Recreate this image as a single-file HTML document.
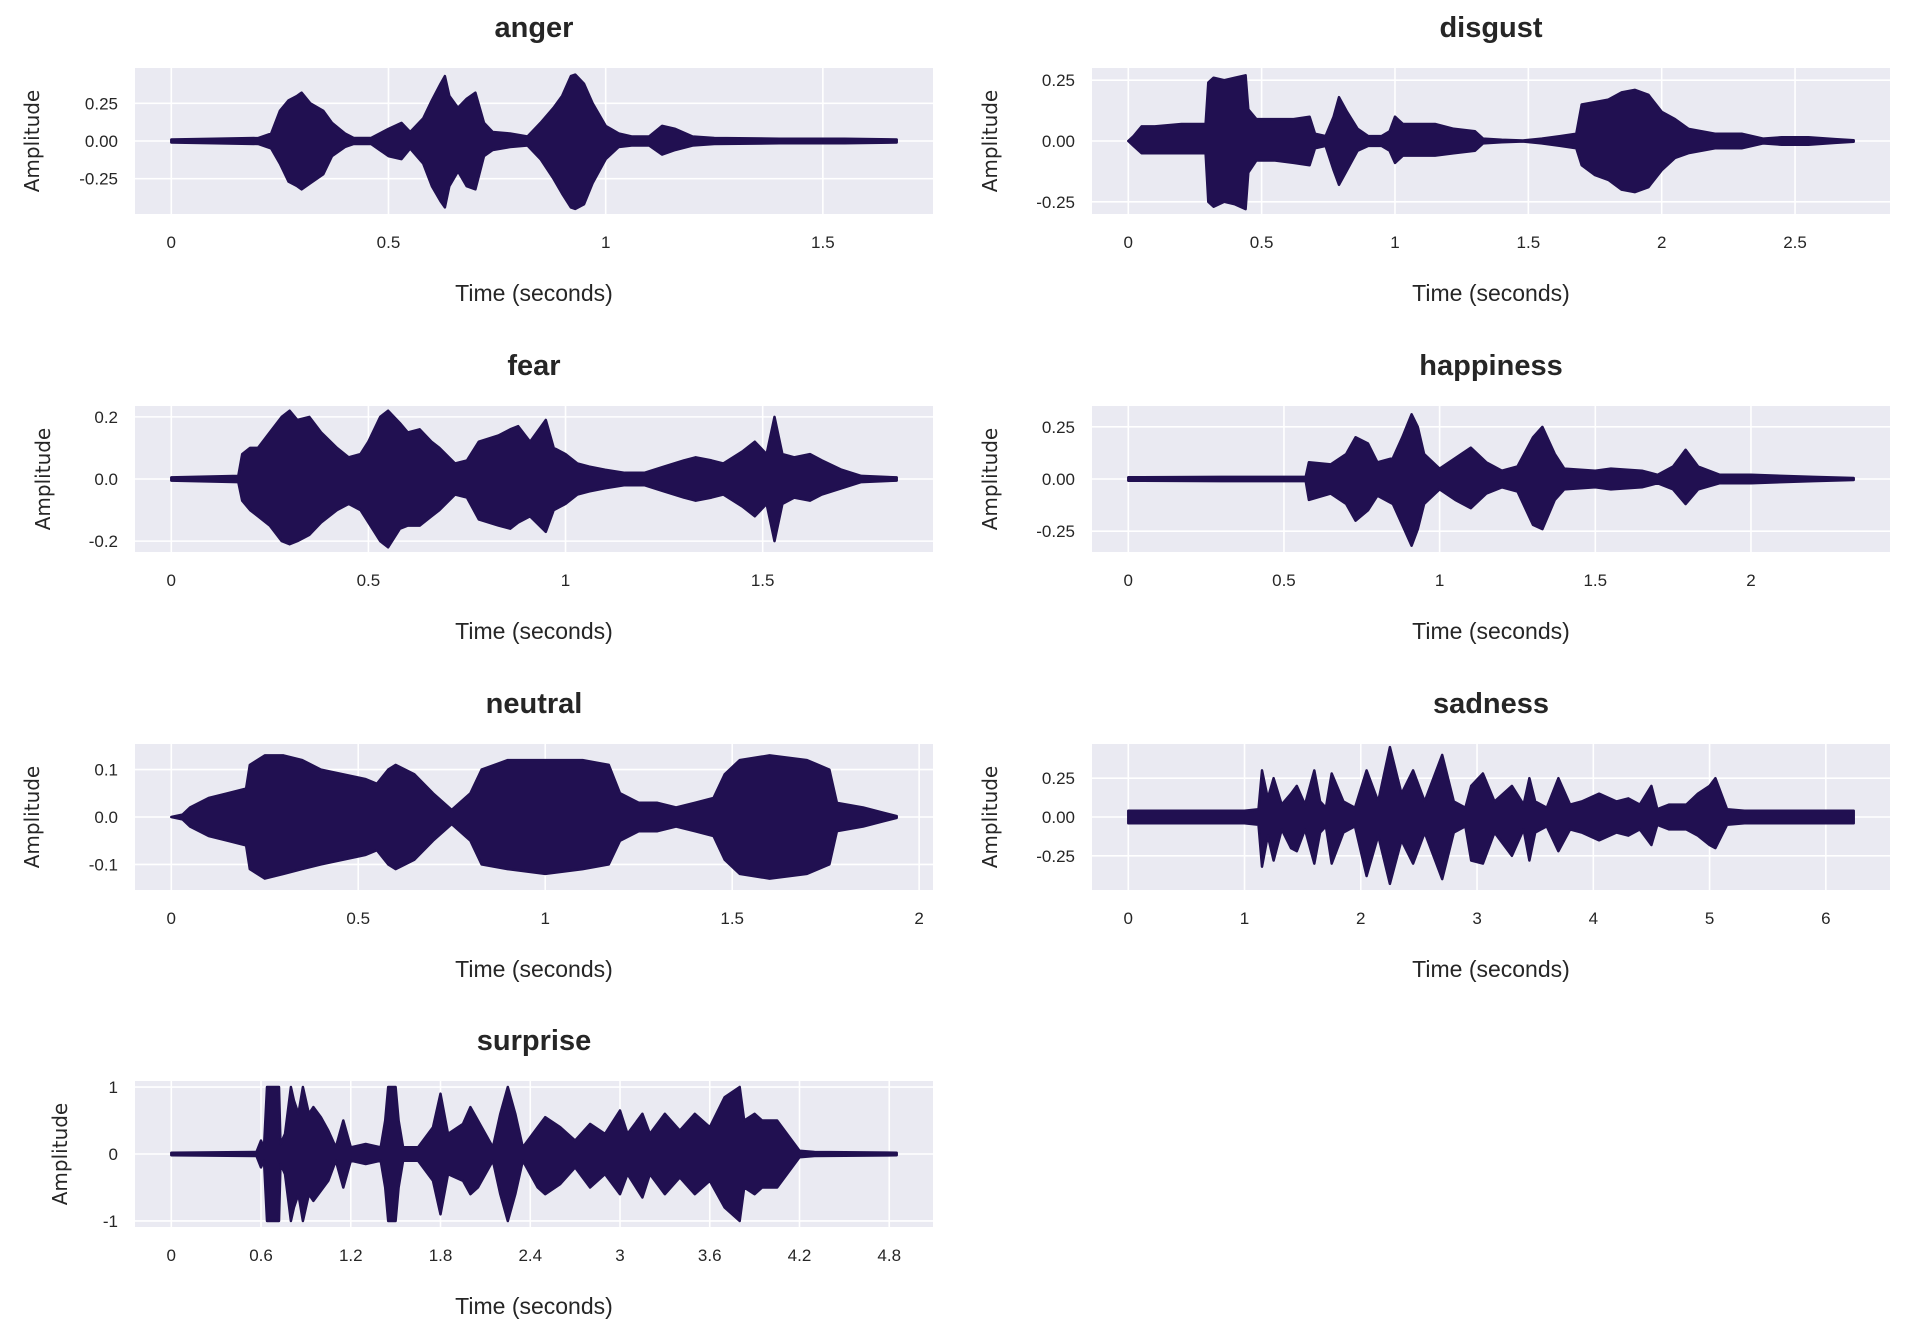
<!DOCTYPE html>
<html><head><meta charset="utf-8"><title>Emotion waveforms</title>
<style>
body{margin:0;background:#fff;}
svg{display:block;}
.tick{font-family:"Liberation Sans Narrow","Liberation Sans",sans-serif;font-size:17px;fill:#262626;}
.xl{font-family:"Liberation Sans Narrow","Liberation Sans",sans-serif;font-size:23px;fill:#262626;}
.tt{font-family:"Liberation Sans Narrow","Liberation Sans",sans-serif;font-size:29px;font-weight:bold;fill:#262626;}
.yl{font-family:"DejaVu Sans",sans-serif;font-size:20px;fill:#262626;}
</style></head>
<body>
<svg id="fig" width="1905" height="1334" xmlns="http://www.w3.org/2000/svg"></svg>
<script>
// ---------- data ----------
const angerT = [0,0.1,0.2,0.23,0.25,0.27,0.29,0.3,0.32,0.35,0.37,0.4,0.42,0.46,0.5,0.53,0.55,0.58,0.6,0.62,0.63,0.64,0.66,0.68,0.7,0.72,0.74,0.78,0.82,0.85,0.88,0.9,0.92,0.93,0.95,0.97,1.0,1.03,1.06,1.1,1.13,1.16,1.2,1.25,1.4,1.55,1.67];
const angerUp = [0.01,0.015,0.02,0.05,0.2,0.27,0.3,0.32,0.25,0.2,0.12,0.05,0.02,0.02,0.08,0.12,0.06,0.15,0.27,0.38,0.43,0.3,0.22,0.28,0.32,0.12,0.06,0.05,0.03,0.12,0.22,0.3,0.43,0.44,0.38,0.25,0.1,0.05,0.03,0.03,0.1,0.08,0.03,0.02,0.015,0.015,0.01];
const angerLo = [-0.01,-0.015,-0.02,-0.05,-0.15,-0.27,-0.3,-0.32,-0.28,-0.22,-0.1,-0.04,-0.02,-0.02,-0.1,-0.12,-0.05,-0.15,-0.3,-0.4,-0.44,-0.3,-0.2,-0.3,-0.32,-0.1,-0.06,-0.04,-0.03,-0.12,-0.25,-0.35,-0.44,-0.45,-0.42,-0.28,-0.12,-0.04,-0.03,-0.03,-0.09,-0.06,-0.03,-0.02,-0.015,-0.015,-0.01];

const disgustT = [0,0.02,0.05,0.1,0.2,0.29,0.3,0.32,0.36,0.4,0.44,0.45,0.48,0.55,0.62,0.68,0.7,0.74,0.77,0.79,0.82,0.86,0.9,0.95,0.98,1.0,1.03,1.08,1.15,1.22,1.3,1.33,1.4,1.48,1.55,1.62,1.68,1.7,1.75,1.8,1.85,1.9,1.95,2.0,2.05,2.1,2.2,2.3,2.38,2.45,2.55,2.65,2.72];
const disgustUp = [0,0.02,0.06,0.06,0.07,0.07,0.24,0.26,0.25,0.26,0.27,0.13,0.09,0.09,0.09,0.1,0.03,0.02,0.1,0.18,0.12,0.05,0.02,0.02,0.04,0.1,0.07,0.07,0.07,0.05,0.04,0.01,0.005,0.002,0.01,0.02,0.03,0.15,0.16,0.17,0.2,0.21,0.19,0.12,0.09,0.05,0.03,0.03,0.01,0.015,0.015,0.008,0.003];
const disgustLo = [0,-0.02,-0.05,-0.05,-0.05,-0.05,-0.25,-0.27,-0.25,-0.26,-0.28,-0.13,-0.08,-0.08,-0.09,-0.1,-0.03,-0.02,-0.12,-0.18,-0.12,-0.04,-0.02,-0.02,-0.04,-0.09,-0.06,-0.06,-0.06,-0.05,-0.04,-0.01,-0.005,-0.002,-0.01,-0.02,-0.03,-0.1,-0.14,-0.16,-0.2,-0.21,-0.19,-0.12,-0.07,-0.05,-0.03,-0.03,-0.01,-0.015,-0.015,-0.008,-0.003];

const fearT = [0,0.1,0.17,0.18,0.2,0.22,0.25,0.28,0.3,0.32,0.35,0.38,0.42,0.45,0.48,0.5,0.53,0.55,0.58,0.6,0.63,0.66,0.68,0.72,0.75,0.78,0.83,0.86,0.88,0.91,0.95,0.97,1.0,1.03,1.06,1.1,1.15,1.2,1.25,1.3,1.33,1.37,1.4,1.45,1.48,1.51,1.53,1.55,1.58,1.62,1.65,1.7,1.75,1.84];
const fearUp = [0.005,0.008,0.01,0.08,0.1,0.1,0.15,0.2,0.22,0.19,0.2,0.15,0.1,0.07,0.08,0.12,0.2,0.22,0.18,0.15,0.16,0.12,0.1,0.05,0.06,0.12,0.14,0.16,0.17,0.12,0.19,0.1,0.08,0.05,0.04,0.03,0.02,0.02,0.04,0.06,0.07,0.06,0.05,0.09,0.12,0.08,0.2,0.08,0.07,0.08,0.06,0.03,0.01,0.005];
const fearLo = [-0.005,-0.008,-0.01,-0.07,-0.1,-0.12,-0.15,-0.2,-0.21,-0.2,-0.18,-0.14,-0.1,-0.08,-0.1,-0.14,-0.2,-0.22,-0.16,-0.15,-0.15,-0.12,-0.1,-0.05,-0.06,-0.13,-0.15,-0.16,-0.14,-0.12,-0.17,-0.1,-0.08,-0.05,-0.04,-0.03,-0.02,-0.02,-0.04,-0.06,-0.07,-0.06,-0.05,-0.09,-0.12,-0.08,-0.2,-0.08,-0.06,-0.07,-0.05,-0.03,-0.01,-0.005];

const happyT = [0,0.3,0.57,0.58,0.65,0.7,0.73,0.77,0.8,0.85,0.88,0.91,0.93,0.95,1.0,1.05,1.1,1.15,1.2,1.25,1.3,1.33,1.37,1.4,1.5,1.55,1.65,1.7,1.75,1.79,1.83,1.9,2.0,2.1,2.2,2.33];
const happyUp = [0.008,0.01,0.01,0.08,0.07,0.12,0.2,0.17,0.08,0.1,0.2,0.31,0.25,0.12,0.05,0.1,0.15,0.08,0.04,0.06,0.2,0.25,0.12,0.05,0.04,0.05,0.04,0.02,0.06,0.14,0.06,0.02,0.02,0.015,0.01,0.005];
const happyLo = [-0.008,-0.01,-0.01,-0.1,-0.07,-0.12,-0.2,-0.15,-0.08,-0.12,-0.22,-0.32,-0.24,-0.12,-0.05,-0.1,-0.14,-0.07,-0.04,-0.06,-0.22,-0.24,-0.1,-0.05,-0.04,-0.05,-0.04,-0.02,-0.05,-0.12,-0.05,-0.02,-0.02,-0.015,-0.01,-0.005];

const neutralT = [0,0.03,0.05,0.1,0.15,0.2,0.21,0.25,0.3,0.35,0.4,0.46,0.52,0.55,0.58,0.6,0.65,0.7,0.75,0.8,0.83,0.9,1.0,1.1,1.17,1.2,1.25,1.3,1.35,1.4,1.45,1.48,1.52,1.6,1.7,1.76,1.78,1.85,1.9,1.94];
const neutralUp = [0,0.005,0.02,0.04,0.05,0.06,0.11,0.13,0.13,0.12,0.1,0.09,0.08,0.07,0.1,0.11,0.09,0.05,0.015,0.05,0.1,0.12,0.12,0.12,0.11,0.05,0.03,0.03,0.02,0.03,0.04,0.09,0.12,0.13,0.12,0.1,0.03,0.02,0.01,0.002];
const neutralLo = [0,-0.005,-0.02,-0.04,-0.05,-0.06,-0.11,-0.13,-0.12,-0.11,-0.1,-0.09,-0.08,-0.07,-0.1,-0.11,-0.09,-0.05,-0.015,-0.05,-0.1,-0.11,-0.12,-0.11,-0.1,-0.05,-0.03,-0.03,-0.02,-0.03,-0.04,-0.09,-0.12,-0.13,-0.12,-0.1,-0.03,-0.02,-0.01,-0.002];

const sadT = [0,1.0,1.12,1.15,1.2,1.25,1.32,1.4,1.45,1.52,1.6,1.65,1.7,1.75,1.85,1.95,2.05,2.15,2.25,2.35,2.45,2.55,2.7,2.8,2.9,2.95,3.05,3.15,3.3,3.4,3.45,3.5,3.6,3.7,3.8,3.9,4.05,4.2,4.3,4.4,4.5,4.55,4.65,4.8,4.9,5.0,5.05,5.15,5.3,6.0,6.24];
const sadUp = [0.04,0.04,0.05,0.3,0.12,0.25,0.08,0.15,0.2,0.08,0.3,0.1,0.06,0.28,0.1,0.06,0.3,0.1,0.45,0.15,0.3,0.1,0.4,0.1,0.06,0.2,0.28,0.1,0.2,0.08,0.25,0.1,0.06,0.25,0.08,0.1,0.15,0.1,0.12,0.08,0.2,0.05,0.08,0.08,0.15,0.2,0.25,0.05,0.04,0.04,0.04];
const sadLo = [-0.04,-0.04,-0.05,-0.32,-0.12,-0.28,-0.08,-0.2,-0.22,-0.08,-0.3,-0.1,-0.06,-0.3,-0.1,-0.06,-0.38,-0.12,-0.43,-0.15,-0.3,-0.1,-0.4,-0.1,-0.06,-0.28,-0.3,-0.1,-0.25,-0.08,-0.28,-0.1,-0.06,-0.22,-0.08,-0.1,-0.15,-0.1,-0.12,-0.08,-0.18,-0.05,-0.08,-0.08,-0.12,-0.18,-0.2,-0.05,-0.04,-0.04,-0.04];

const surpT = [0,0.57,0.6,0.62,0.64,0.66,0.72,0.73,0.76,0.8,0.82,0.85,0.88,0.92,0.95,1.0,1.05,1.1,1.15,1.2,1.3,1.4,1.43,1.45,1.5,1.52,1.55,1.65,1.75,1.8,1.85,1.95,2.0,2.05,2.15,2.2,2.25,2.3,2.35,2.45,2.5,2.6,2.7,2.8,2.9,3.0,3.05,3.15,3.2,3.3,3.4,3.5,3.6,3.7,3.8,3.83,3.9,3.95,4.05,4.15,4.2,4.3,4.85];
const surpUp = [0.02,0.03,0.2,0.1,1.0,1.0,1.0,0.15,0.3,1.0,0.8,0.6,1.0,0.6,0.7,0.55,0.35,0.1,0.5,0.1,0.15,0.1,0.5,1.0,1.0,0.5,0.1,0.1,0.4,0.9,0.3,0.45,0.7,0.5,0.1,0.6,1.0,0.6,0.1,0.4,0.55,0.4,0.2,0.45,0.3,0.65,0.3,0.6,0.3,0.6,0.35,0.6,0.4,0.85,1.0,0.5,0.6,0.5,0.5,0.2,0.05,0.03,0.02];
const surpLo = [-0.02,-0.03,-0.2,-0.1,-1.0,-1.0,-1.0,-0.15,-0.3,-1.0,-0.8,-0.6,-1.0,-0.6,-0.7,-0.55,-0.4,-0.1,-0.5,-0.1,-0.15,-0.1,-0.5,-1.0,-1.0,-0.5,-0.1,-0.1,-0.4,-0.9,-0.3,-0.4,-0.6,-0.5,-0.1,-0.6,-1.0,-0.6,-0.1,-0.5,-0.6,-0.45,-0.2,-0.5,-0.3,-0.6,-0.3,-0.65,-0.3,-0.6,-0.35,-0.6,-0.4,-0.8,-1.0,-0.5,-0.6,-0.5,-0.5,-0.2,-0.05,-0.03,-0.02];

const titles = ["anger","disgust","fear","happiness","neutral","sadness","surprise"];
const durations = [1.67,2.72,1.84,2.33,1.94,6.24,4.85];
const yLimits = [0.484,0.30,0.235,0.35,0.154,0.47,1.09];
const xTicks = [[0,0.5,1,1.5],[0,0.5,1,1.5,2,2.5],[0,0.5,1,1.5],[0,0.5,1,1.5,2],[0,0.5,1,1.5,2],[0,1,2,3,4,5,6],[0,0.6,1.2,1.8,2.4,3,3.6,4.2,4.8]];
const xTickLabels = [["0","0.5","1","1.5"],["0","0.5","1","1.5","2","2.5"],["0","0.5","1","1.5"],["0","0.5","1","1.5","2"],["0","0.5","1","1.5","2"],["0","1","2","3","4","5","6"],["0","0.6","1.2","1.8","2.4","3","3.6","4.2","4.8"]];
const yTicks = [[-0.25,0,0.25],[-0.25,0,0.25],[-0.2,0,0.2],[-0.25,0,0.25],[-0.1,0,0.1],[-0.25,0,0.25],[-1,0,1]];
const yTickLabels = [["-0.25","0.00","0.25"],["-0.25","0.00","0.25"],["-0.2","0.0","0.2"],["-0.25","0.00","0.25"],["-0.1","0.0","0.1"],["-0.25","0.00","0.25"],["-1","0","1"]];
const seriesT = [angerT,disgustT,fearT,happyT,neutralT,sadT,surpT];
const seriesUp = [angerUp,disgustUp,fearUp,happyUp,neutralUp,sadUp,surpUp];
const seriesLo = [angerLo,disgustLo,fearLo,happyLo,neutralLo,sadLo,surpLo];

// ---------- layout ----------
const NS = "http://www.w3.org/2000/svg";
const fig = document.getElementById("fig");
const colX = [135,1092], axW = 798, axH = 146;
const rowY = [68,406,744,1081];
const ylabX = [[24,982],[24,982],[24,982],[52,982]];
function mk(tag, attrs, parent){const e=document.createElementNS(NS,tag);for(const k in attrs)e.setAttribute(k,attrs[k]);(parent||fig).appendChild(e);return e;}

titles.forEach((name,i)=>{
  const col=i%2,row=Math.floor(i/2);
  const x0=colX[col],y0=rowY[row];
  const D=durations[i],Y=yLimits[i];
  const xmin=-0.05*D,xmax=1.05*D;
  const sx=v=>x0+(v-xmin)/(xmax-xmin)*axW;
  const sy=v=>y0+axH/2-v/Y*(axH/2);
  const g=mk("g",{});
  
  
  const bg=mk("rect",{x:x0,y:y0,width:axW,height:axH,fill:"#eaeaf2"},g);
  
  
  xTicks[i].forEach((t,k)=>{
    const gl=mk("line",{x1:sx(t),x2:sx(t),y1:y0,y2:y0+axH,stroke:"#fff","stroke-width":1.6},g);
    
    
    const tl=mk("text",{x:sx(t),y:y0+axH+34,"text-anchor":"middle",class:"tick"},g);
    tl.textContent=xTickLabels[i][k];
    
    
  });
  yTicks[i].forEach((t,k)=>{
    const gl=mk("line",{x1:x0,x2:x0+axW,y1:sy(t),y2:sy(t),stroke:"#fff","stroke-width":1.6},g);
    
    
    const tl=mk("text",{x:x0-17,y:sy(t)+6,"text-anchor":"end",class:"tick"},g);
    tl.textContent=yTickLabels[i][k];
    
    
  });
  const T=seriesT[i],U=seriesUp[i],L=seriesLo[i];
  let pts=[];
  for(let k=0;k<T.length;k++)pts.push(sx(T[k]).toFixed(1)+","+sy(U[k]).toFixed(1));
  for(let k=T.length-1;k>=0;k--)pts.push(sx(T[k]).toFixed(1)+","+sy(L[k]).toFixed(1));
  const wave=mk("polygon",{points:pts.join(" "),fill:"#211051",stroke:"#211051","stroke-width":2.5,"stroke-linejoin":"round"},g);
  
  
  const tt=mk("text",{x:x0+axW/2,y:37,"text-anchor":"middle",class:"tt"},g);
  tt.setAttribute("y",y0-31);
  tt.textContent=name;
  
  
  const xl=mk("text",{x:x0+axW/2,y:y0+axH+87,"text-anchor":"middle",class:"xl"},g);
  xl.textContent="Time (seconds)";
  
  
  let lx=ylabX[row][col];
  if(name==="fear")lx=35;
  const yl=mk("text",{x:lx+15,y:y0+axH/2,"text-anchor":"middle",class:"yl",transform:"rotate(-90 "+(lx+15)+" "+(y0+axH/2)+")"},g);
  yl.textContent="Amplitude";
  
  
});
</script>
</body></html>
